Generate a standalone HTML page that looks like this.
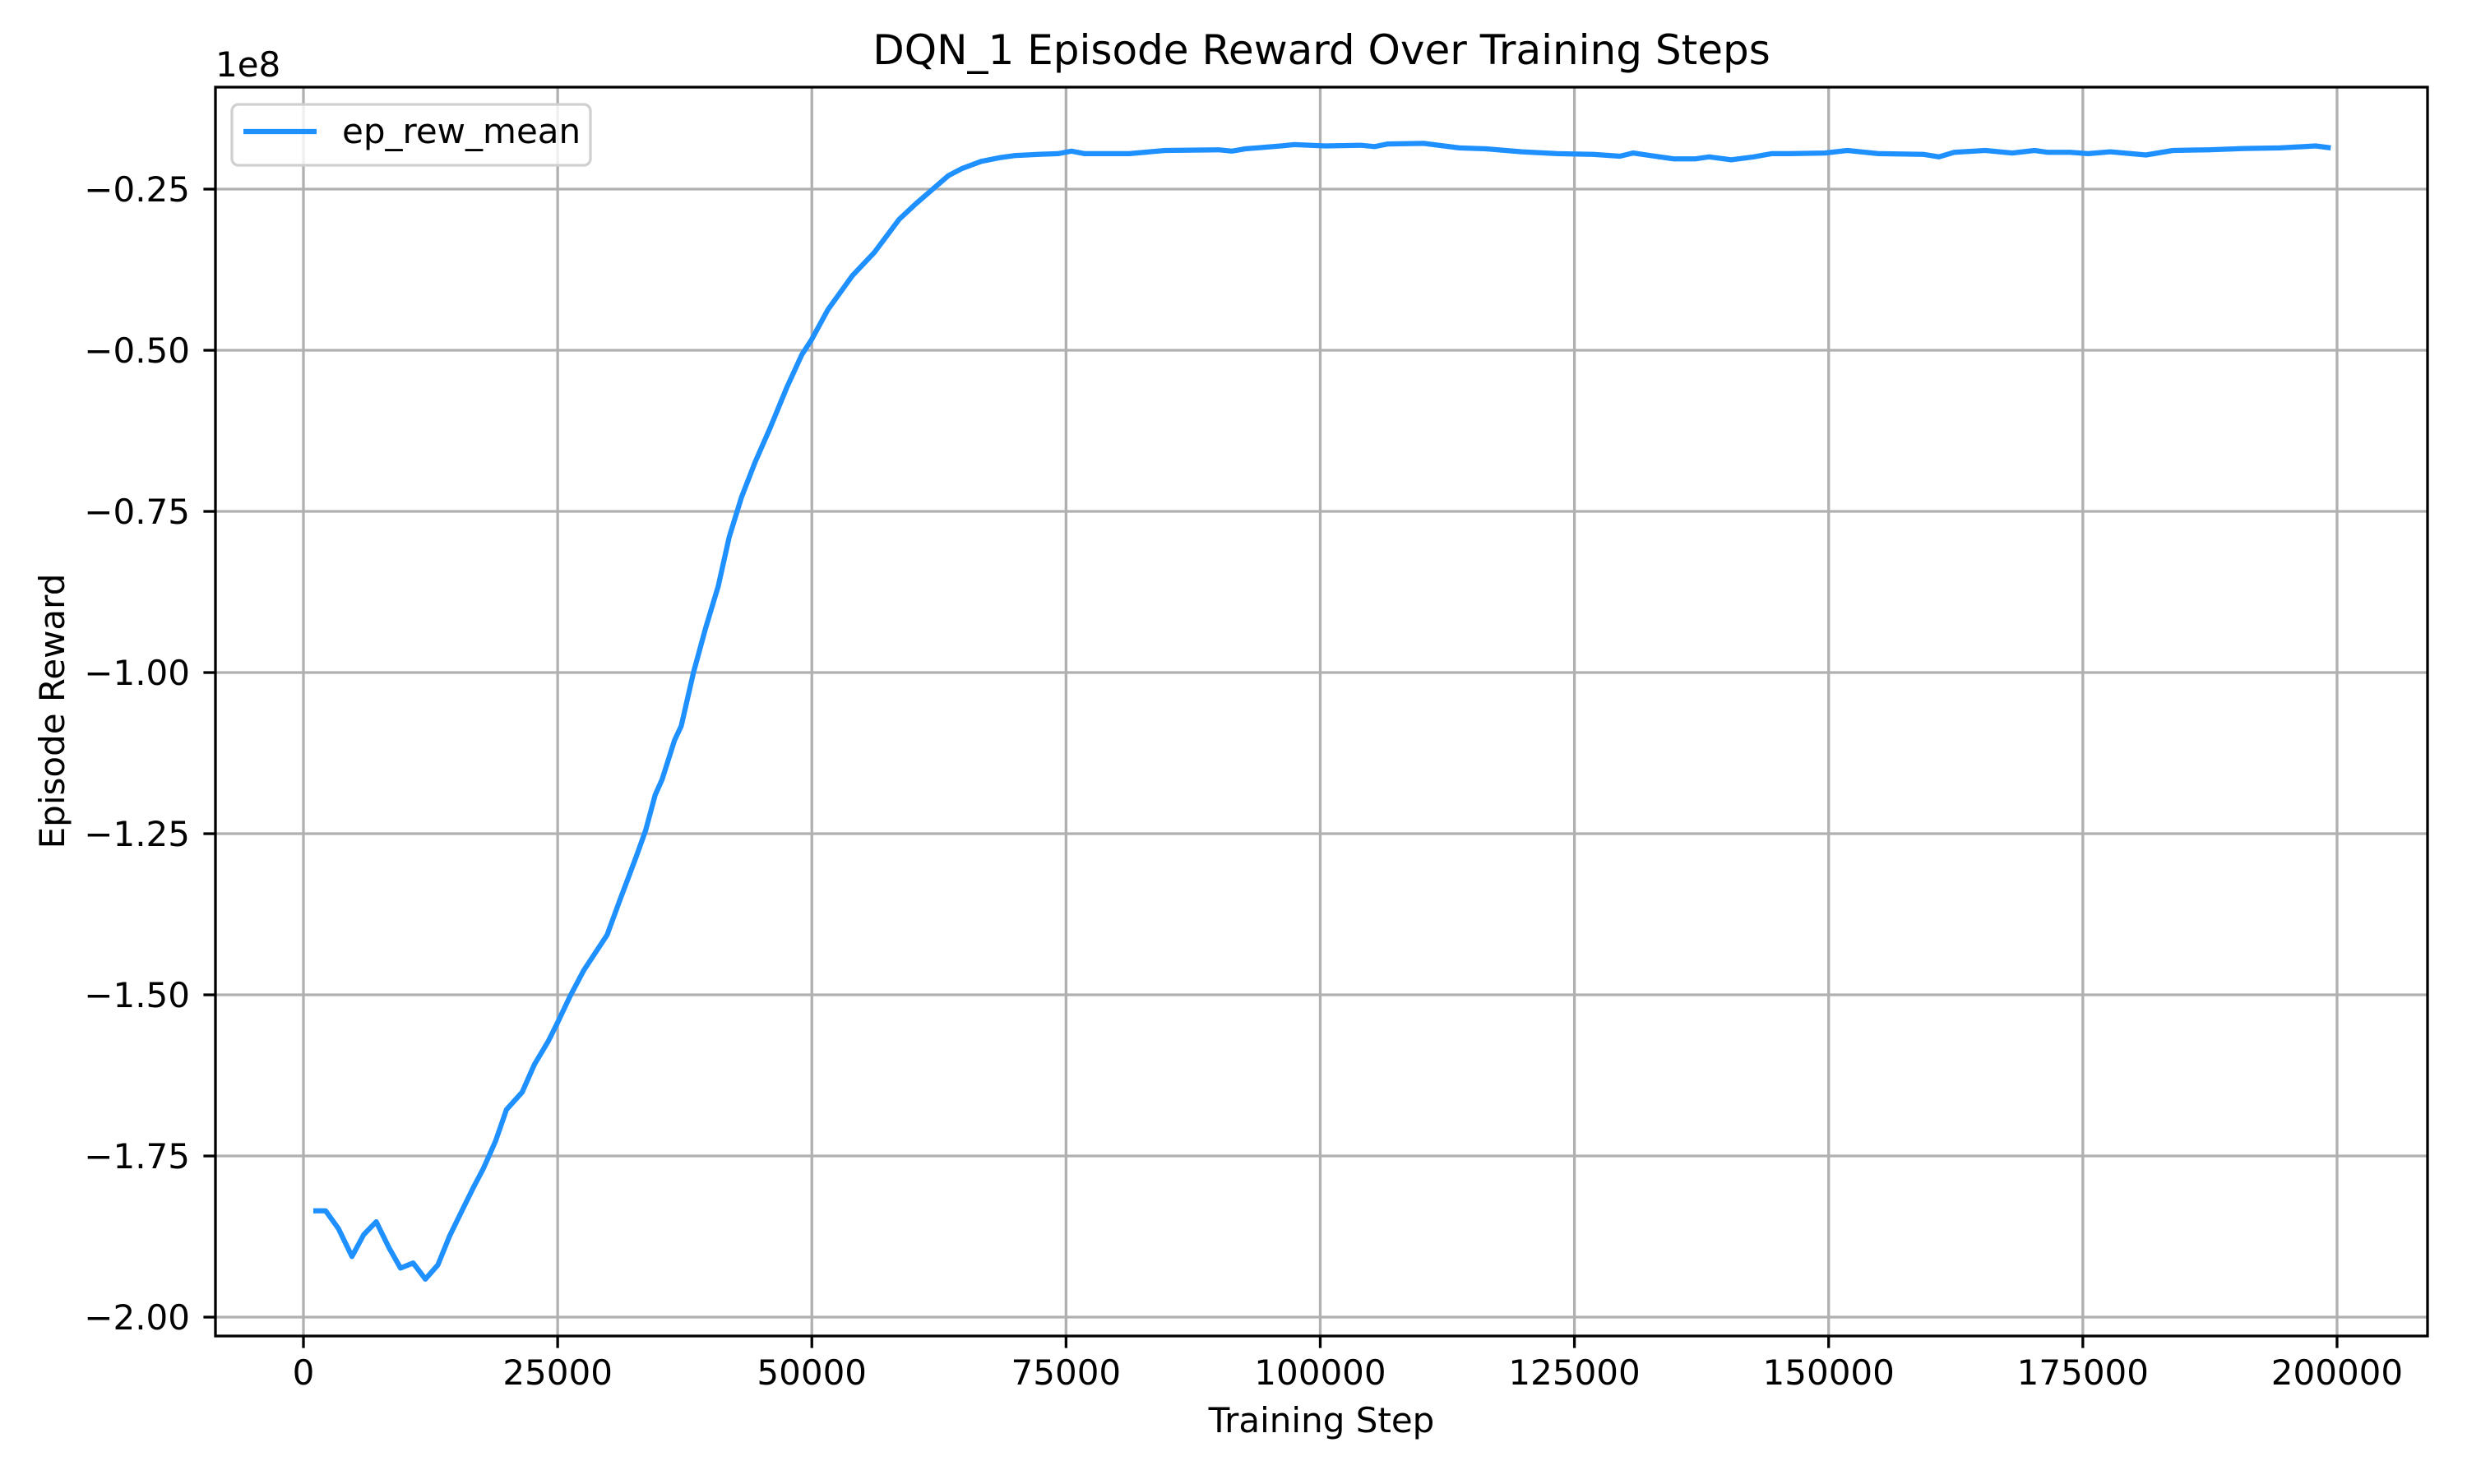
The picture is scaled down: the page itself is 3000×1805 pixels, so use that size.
<!DOCTYPE html>
<html><head><meta charset="utf-8"><style>
html,body{margin:0;padding:0;background:#fff;}
svg text{font-family:"DejaVu Sans","Liberation Sans",sans-serif;fill:#000;}
</style></head>
<body>
<svg id="chart" width="3000" height="1800" xmlns="http://www.w3.org/2000/svg">
<rect width="3000" height="1800" fill="#fff"/>
<g id="grid"></g>
<g id="plot"></g>
<rect x="262" y="106" width="2690" height="1519" fill="none" stroke="#000" stroke-width="3.3"/>
<g id="ticks"></g>
<text x="1607" y="78" font-size="50" text-anchor="middle">DQN_1 Episode Reward Over Training Steps</text>
<text x="262" y="93" font-size="42">1e8</text>
<text x="1607" y="1742" font-size="42" text-anchor="middle">Training Step</text>
<text x="0" y="0" font-size="42" text-anchor="middle" transform="translate(78,865) rotate(-90)">Episode Reward</text>
<g>
<rect x="282" y="127" width="436" height="74" rx="8" fill="#fff" fill-opacity="0.8" stroke="#d0d0d0" stroke-width="3.3"/>
<line x1="296" y1="160" x2="385" y2="160" stroke="#1e90ff" stroke-width="6.25"/>
<text x="416" y="174" font-size="42">ep_rew_mean</text>
</g>
</svg>
<script>
const steps = [970,2180,3450,4770,5930,7160,8400,9550,10790,11990,13220,14380,15620,16770,17680,18890,19970,21510,22720,24080,25000,26230,27570,29870,31220,32700,33650,34590,35270,36500,37150,38360,39570,40790,41870,43080,44430,45910,47530,49010,49960,51580,54000,56160,58580,60200,63430,64780,66650,68560,69910,72290,74210,75530,76840,81230,84740,90000,91310,92630,96140,97450,100520,104030,105350,106660,110170,113680,116310,119820,123330,126840,129470,130790,132540,134740,136920,138240,140430,142620,144380,146130,149640,151830,154900,159280,160860,162350,165420,168060,170250,171560,173760,175510,177700,181210,183850,187360,190870,194380,197890,199380];
const rewards = [-1.835,-1.835,-1.863,-1.906,-1.872,-1.852,-1.892,-1.924,-1.916,-1.941,-1.919,-1.874,-1.834,-1.797,-1.770,-1.727,-1.678,-1.651,-1.608,-1.572,-1.543,-1.502,-1.462,-1.407,-1.349,-1.287,-1.245,-1.190,-1.166,-1.105,-1.083,-1.000,-0.930,-0.866,-0.790,-0.728,-0.673,-0.620,-0.558,-0.507,-0.484,-0.437,-0.384,-0.348,-0.297,-0.273,-0.229,-0.218,-0.207,-0.201,-0.198,-0.196,-0.195,-0.191,-0.195,-0.195,-0.190,-0.189,-0.191,-0.1875,-0.183,-0.181,-0.183,-0.182,-0.184,-0.180,-0.179,-0.186,-0.1875,-0.192,-0.195,-0.196,-0.199,-0.194,-0.198,-0.203,-0.203,-0.200,-0.2045,-0.200,-0.195,-0.195,-0.194,-0.190,-0.195,-0.196,-0.200,-0.193,-0.190,-0.194,-0.190,-0.193,-0.193,-0.195,-0.192,-0.197,-0.190,-0.189,-0.187,-0.186,-0.183,-0.186];
const xTicks = [0,25000,50000,75000,100000,125000,150000,175000,200000];
const yTicks = [-0.25,-0.5,-0.75,-1.0,-1.25,-1.5,-1.75,-2.0];
const yTickLabels = ["\u22120.25","\u22120.50","\u22120.75","\u22121.00","\u22121.25","\u22121.50","\u22121.75","\u22122.00"];

const L=262,R=2952,T=106,B=1625;
const xMin=-8654,xMax=208900,yMin=-2.0293,yMax=-0.0918;
const xs=v=>L+(v-xMin)/(xMax-xMin)*(R-L);
const ys=v=>B-(v-yMin)/(yMax-yMin)*(B-T);
const NS="http://www.w3.org/2000/svg";
const grid=document.getElementById('grid'),ticks=document.getElementById('ticks'),plot=document.getElementById('plot');
function mk(tag,attrs,parent){const e=document.createElementNS(NS,tag);for(const k in attrs)e.setAttribute(k,attrs[k]);parent.appendChild(e);return e;}
xTicks.forEach(v=>{
  const x=xs(v);
  const g=mk('line',{x1:x,x2:x,y1:T,y2:B,stroke:'#b0b0b0','stroke-width':3.3},grid);
  
  
  const t=mk('line',{x1:x,x2:x,y1:B,y2:B+14.6,stroke:'#000','stroke-width':3.3},ticks);
  
  
  const l=mk('text',{x:x,y:1684,'font-size':42,'text-anchor':'middle'},ticks);
  l.textContent=String(v);
  
  
});
yTicks.forEach((v,i)=>{
  const y=ys(v);
  const g=mk('line',{x1:L,x2:R,y1:y,y2:y,stroke:'#b0b0b0','stroke-width':3.3},grid);
  
  
  const t=mk('line',{x1:L-14.6,x2:L,y1:y,y2:y,stroke:'#000','stroke-width':3.3},ticks);
  
  
  const l=mk('text',{x:231,y:y+15,'font-size':42,'text-anchor':'end'},ticks);
  l.textContent=yTickLabels[i];
  
  
});
const d=steps.map((s,i)=>(i?'L':'M')+xs(s).toFixed(1)+','+ys(rewards[i]).toFixed(1)).join(' ');
const p=mk('path',{d:d,fill:'none',stroke:'#1e90ff','stroke-width':6.25,'stroke-linejoin':'round','stroke-linecap':'butt'},plot);


</script>
</body></html>
